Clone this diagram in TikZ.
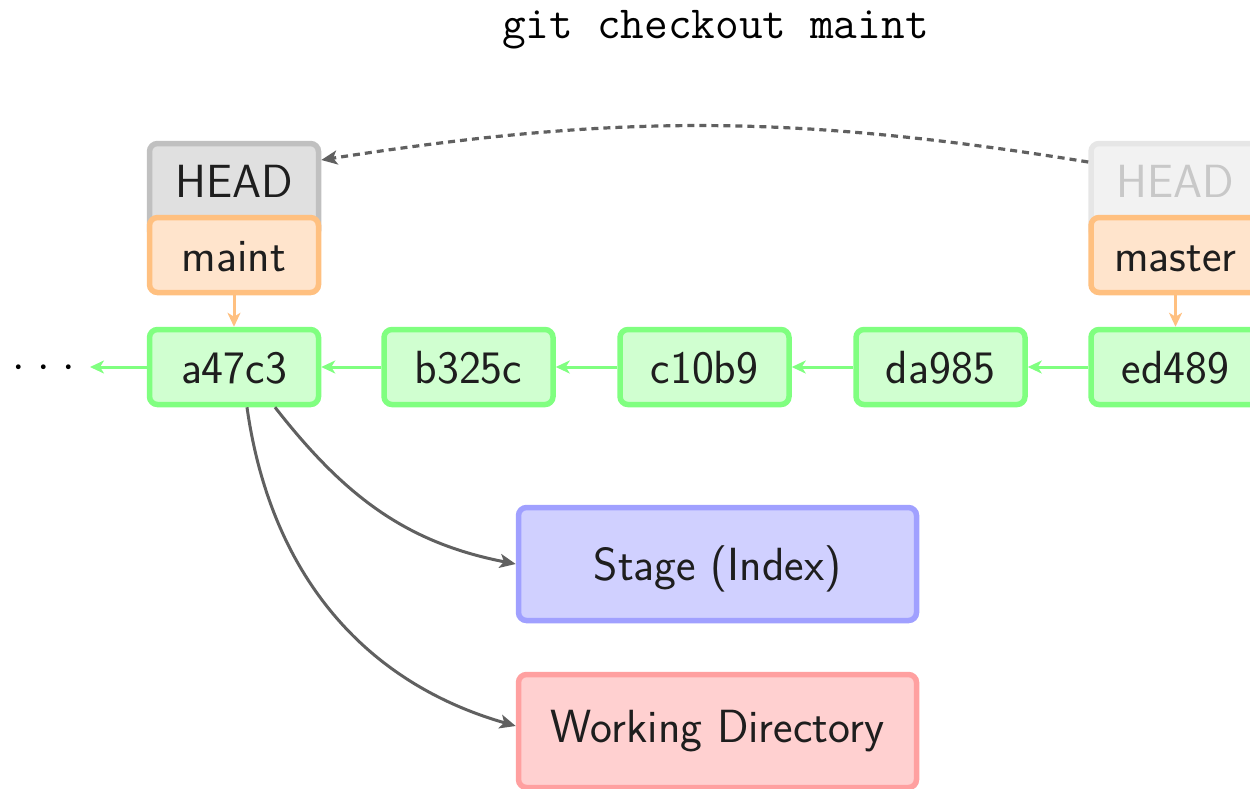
\RequirePackage{fix-cm}
\documentclass[tikz,border=0pt]{standalone}
\usepackage{fontspec}
\usetikzlibrary{arrows.meta}
\definecolor{cfill}{RGB}{208,255,208}
\definecolor{cdraw}{RGB}{128,255,128}
\definecolor{bfill}{RGB}{255,228,204}
\definecolor{bdraw}{RGB}{255,192,128}
\definecolor{hfill}{RGB}{224,224,224}
\definecolor{hdraw}{RGB}{192,192,192}
\definecolor{ffill}{RGB}{242,242,242}
\definecolor{fdraw}{RGB}{230,230,230}
\definecolor{ftext}{RGB}{200,200,200}
\definecolor{sfill}{RGB}{208,208,255}
\definecolor{sdraw}{RGB}{160,160,255}
\definecolor{wfill}{RGB}{255,208,208}
\definecolor{wdraw}{RGB}{255,160,160}
\definecolor{agray}{RGB}{96,96,96}
\definecolor{txt}{RGB}{30,30,30}
\begin{document}
\begin{tikzpicture}[x=1pt,y=1pt,
  base/.style={rounded corners=8pt, line width=5.5pt, inner sep=0pt, text=txt,
    text height=32pt, text depth=0pt, font=\sffamily\fontsize{46.5}{56}\selectfont},
  small/.style={base, minimum width=169pt, minimum height=75pt},
  commit/.style={small, draw=cdraw, fill=cfill},
  branch/.style={small, draw=bdraw, fill=bfill},
  headbox/.style={small, minimum height=95pt, text depth=20pt},
  head/.style={headbox, draw=hdraw, fill=hfill},
  oldhead/.style={headbox, draw=fdraw, fill=ffill, text=ftext},
  area/.style={base, minimum width=398pt, minimum height=113pt},
  parent/.style={draw=cdraw, line width=3pt, -{Stealth[length=14pt,width=13pt,inset=4pt]}},
  ref/.style={draw=bdraw, line width=3pt, -{Stealth[length=14pt,width=13pt,inset=4pt]}},
  flow/.style={draw=agray, line width=3pt, -{Stealth[length=16pt,width=14pt,inset=4pt]}},
  move/.style={draw=agray, line width=3.2pt, dash pattern=on 7pt off 5pt, -{Stealth[length=16pt,width=14pt,inset=4pt]}},
]
\useasboundingbox (0,0) rectangle (1250,-788);
\clip (0,0) rectangle (1250,-788);

\node[anchor=base, font=\ttfamily\fontsize{46}{54}\selectfont] (title) at (715.5,-38) {git checkout maint};

% left HEAD and maint
\node[head] (HEADL) at (234,-191) {HEAD};
\node[branch] (maint) at (234,-255) {maint};
% right HEAD and master
\node[oldhead] (HEADR) at (1175.5,-191) {HEAD};
\node[branch] (master) at (1175.5,-255) {master};

% commits
\node[commit] (a) at (234,-367) {a47c3};
\node[commit] (b) at (468.5,-367) {b325c};
\node[commit] (c) at (704.5,-367) {c10b9};
\node[commit] (d) at (940.5,-367) {da985};
\node[commit] (e) at (1175.5,-367) {ed489};

\node[anchor=base, font=\fontsize{45}{54}\selectfont, inner sep=0pt] (dots) at (44,-378) {${\cdot}\mkern5mu{\cdot}\mkern5mu{\cdot}$};
\coordinate (tail) at (90,-367);

% areas
\node[area, draw=sdraw, fill=sfill] (stage) at (717.5,-564) {Stage (Index)};
\node[area, draw=wdraw, fill=wfill, text depth=10pt] (work) at (717.5,-731) {Working Directory};

% connectors
\draw[parent] (a.west) -- (tail);
\draw[parent] (b.west) -- (a.east);
\draw[parent] (c.west) -- (b.east);
\draw[parent] (d.west) -- (c.east);
\draw[parent] (e.west) -- (d.east);

\draw[ref] (maint.south) -- (a.north);
\draw[ref] (master.south) -- (e.north);

\draw[move] ([yshift=29pt]HEADR.west) to[bend right=9] ([yshift=31pt]HEADL.east);

\draw[flow] ([xshift=41pt]a.south) to[out=-52,in=169] (stage.west);
\draw[flow] ([xshift=13pt]a.south) to[out=-82,in=164] ([yshift=5pt]work.west);
\end{tikzpicture}
\end{document}
